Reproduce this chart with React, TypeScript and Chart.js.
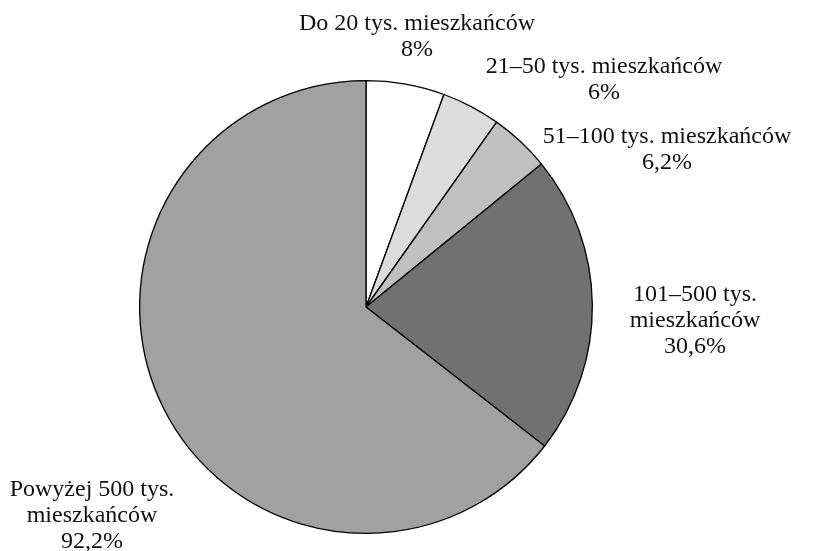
import React, { useEffect, useRef } from "react";
import { Chart, registerables } from "chart.js";

Chart.register(...registerables);

const categories = [
  "Do 20 tys. mieszkańców",
  "21–50 tys. mieszkańców",
  "51–100 tys. mieszkańców",
  "101–500 tys. mieszkańców",
  "Powyżej 500 tys. mieszkańców",
];
const values = [8, 6, 6.2, 30.6, 92.2];
const valueLabels = ["8%", "6%", "6,2%", "30,6%", "92,2%"];
const labelLines = [
  ["Do 20 tys. mieszkańców", "8%"],
  ["21–50 tys. mieszkańców", "6%"],
  ["51–100 tys. mieszkańców", "6,2%"],
  ["101–500 tys.", "mieszkańców", "30,6%"],
  ["Powyżej 500 tys.", "mieszkańców", "92,2%"],
];
const colors = ["#ffffff", "#dcdcdc", "#c0c0c0", "#717171", "#a1a1a1"];

// label anchor offsets relative to pie centre (centre of first line)
const labelOffsets = [
  [51, -283],
  [238, -240],
  [301, -170],
  [329, -12],
  [-274, 183],
];
const LINE_H = 26;

const labelPlugin = {
  id: "outerLabels",
  afterDraw(chart: any) {
    const meta = chart.getDatasetMeta(0);
    const arc = meta.data[0];
    if (!arc) return;
    const cx = arc.x;
    const cy = arc.y;
    const ctx = chart.ctx;
    ctx.save();
    ctx.fillStyle = "#111111";
    ctx.font = "24px 'Liberation Serif', serif";
    ctx.textAlign = "center";
    ctx.textBaseline = "middle";
    labelLines.forEach((lines, i) => {
      const [ox, oy] = labelOffsets[i];
      lines.forEach((line, j) => {
        ctx.fillText(line, cx + ox, cy + oy + j * LINE_H);
      });
    });
    ctx.restore();
  },
};

export default function App() {
  const ref = useRef<HTMLCanvasElement | null>(null);
  useEffect(() => {
    if (!ref.current) return;
    const chart = new Chart(ref.current, {
      type: "pie",
      data: {
        labels: categories,
        datasets: [
          {
            data: values,
            backgroundColor: colors,
            borderColor: "#000000",
            borderWidth: 1.3,
          },
        ],
      },
      options: {
        responsive: false,
        animation: false,
        layout: { padding: { left: 139, right: 247, top: 79, bottom: 16 } },
        plugins: {
          legend: { display: false },
          tooltip: { enabled: false },
          title: { display: false },
        },
      },
      plugins: [labelPlugin],
    });
    return () => chart.destroy();
  }, []);
  return (
    <div style={{ position: "fixed", left: 0, top: 0, width: 840, height: 551, background: "#fff" }}>
      <canvas ref={ref} width={840} height={551} />
    </div>
  );
}
